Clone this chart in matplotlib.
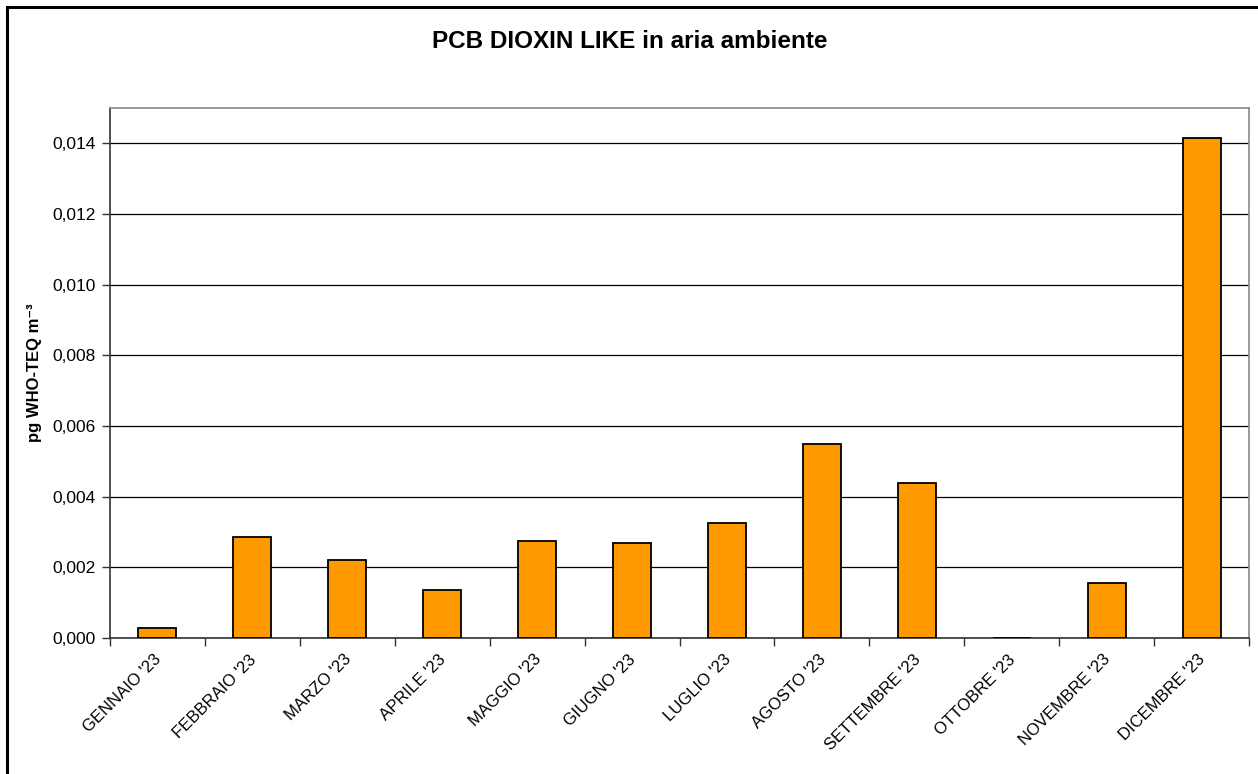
import matplotlib.pyplot as plt
from matplotlib.patches import Rectangle
from matplotlib.ticker import FixedLocator, FuncFormatter
from matplotlib.transforms import ScaledTranslation
import numpy as np

plt.rcParams['font.family'] = ['Liberation Sans', 'DejaVu Sans']

months = ["GENNAIO '23", "FEBBRAIO '23", "MARZO '23", "APRILE '23", "MAGGIO '23",
          "GIUGNO '23", "LUGLIO '23", "AGOSTO '23", "SETTEMBRE '23", "OTTOBRE '23",
          "NOVEMBRE '23", "DICEMBRE '23"]
values = [0.00028, 0.00286, 0.00221, 0.00136, 0.00274, 0.00268,
          0.00325, 0.00549, 0.00440, 0.0, 0.00155, 0.01416]
yticks = [0.000, 0.002, 0.004, 0.006, 0.008, 0.010, 0.012, 0.014]

fig = plt.figure(figsize=(12.58, 7.74), dpi=100)
ax = fig.add_axes([110/1258, 1-638/774, (1249-110)/1258, (638-108)/774])

x = np.arange(len(months))
ax.bar(x, values, width=0.4, color='#ff9900', edgecolor='black', linewidth=1.3, zorder=3)

ax.set_xlim(-0.5, len(months)-0.5)
ax.set_ylim(0, 0.015)
ax.set_yticks(yticks)
ax.yaxis.set_major_formatter(FuncFormatter(lambda v, p: f"{v:.3f}".replace('.', ',')))
ax.grid(axis='y', color='black', linewidth=0.9, zorder=0)

# ticks between categories, labels at centres
ax.xaxis.set_major_locator(FixedLocator(np.arange(-0.5, len(months), 1)))
ax.xaxis.set_major_formatter(FuncFormatter(lambda v, p: ''))
ax.xaxis.set_minor_locator(FixedLocator(x))
ax.set_xticklabels(months, minor=True, rotation=45, ha='right', va='top',
                   rotation_mode='anchor', fontsize=12)
ax.tick_params(axis='x', which='minor', length=0, pad=10)
ax.tick_params(axis='x', which='major', length=6, width=1, color='#333333', direction='out')
ax.tick_params(axis='y', length=6, width=1, color='#333333', labelsize=12.5, pad=4)
shift = ScaledTranslation(-4/100, 0, fig.dpi_scale_trans)
for lbl in ax.get_xticklabels(minor=True):
    lbl.set_transform(lbl.get_transform() + shift)

for s in ['left', 'bottom']:
    ax.spines[s].set_color('#333333')
    ax.spines[s].set_linewidth(1.2)
for s in ['top', 'right']:
    ax.spines[s].set_color('#888888')
    ax.spines[s].set_linewidth(1.2)

ax.set_ylabel('pg WHO-TEQ m\u207b\u00b3', fontsize=12, fontweight='bold', labelpad=8)
fig.text(630/1258, 1-42/774, 'PCB DIOXIN LIKE in aria ambiente', ha='center', va='center',
         fontsize=17.5, fontweight='bold')

# outer chart frame (cut by the image edge at right and bottom)
fig.patches.append(Rectangle((7/1258, -0.1), 1.1, 1.1-7/774, transform=fig.transFigure,
                             fill=False, edgecolor='black', linewidth=2.2))

fig.savefig('out.png', dpi=100)
